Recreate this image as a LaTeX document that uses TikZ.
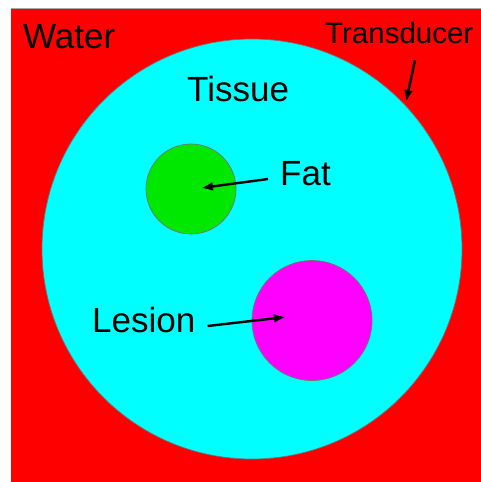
\documentclass[tikz,border=0pt]{standalone}
\usepackage{fontspec}
\setmainfont{Liberation Sans}
\usetikzlibrary{arrows.meta}
\definecolor{water}{RGB}{255,0,0}
\definecolor{tissue}{RGB}{0,255,255}
\definecolor{fat}{RGB}{0,232,0}
\definecolor{lesion}{RGB}{255,0,255}
\tikzset{
  lbl/.style={inner sep=0pt, anchor=base west, font=\fontsize{35}{42}\selectfont},
  pointer/.style={line width=2.4pt, -{Latex[length=12pt,width=9pt]}},
  region/.style={draw=black!55, line width=0.7pt}
}
\begin{document}
\begin{tikzpicture}[x=1pt,y=-1pt]
\useasboundingbox (0,0) rectangle (481,482);
\fill[white] (0,0) rectangle (481,482);
\fill[water] (11,8.5) rectangle (481,482);
\draw[gray!70, line width=1pt] (11,8.5) -- (481,8.5);
\path[region, fill=tissue] (252,249) circle[radius=210];
\path[region, fill=fat] (191,189) circle[radius=45];
\path[region, fill=lesion] (312,320.5) circle[radius=60];
\node[lbl] (water) at (23,48) {Water};
\node[lbl] (tissue) at (187,101) {Tissue};
\node[lbl] (fatl) at (280,185) {Fat};
\node[lbl] (lesl) at (92,332) {Lesion};
\node[lbl, font=\fontsize{29.5}{35}\selectfont] (trans) at (325,43) {Transducer};
\coordinate (fattip) at (201,188);
\coordinate (lestip) at (286,317);
\coordinate (transtip) at (406,102);
\draw[pointer] (fatl.west |- 0,179) ++(-12,0) -- (fattip);
\draw[pointer] ([xshift=12pt]lesl.east |- 0,326) -- (lestip);
\draw[pointer] (415,60) -- (transtip);
\end{tikzpicture}
\end{document}
